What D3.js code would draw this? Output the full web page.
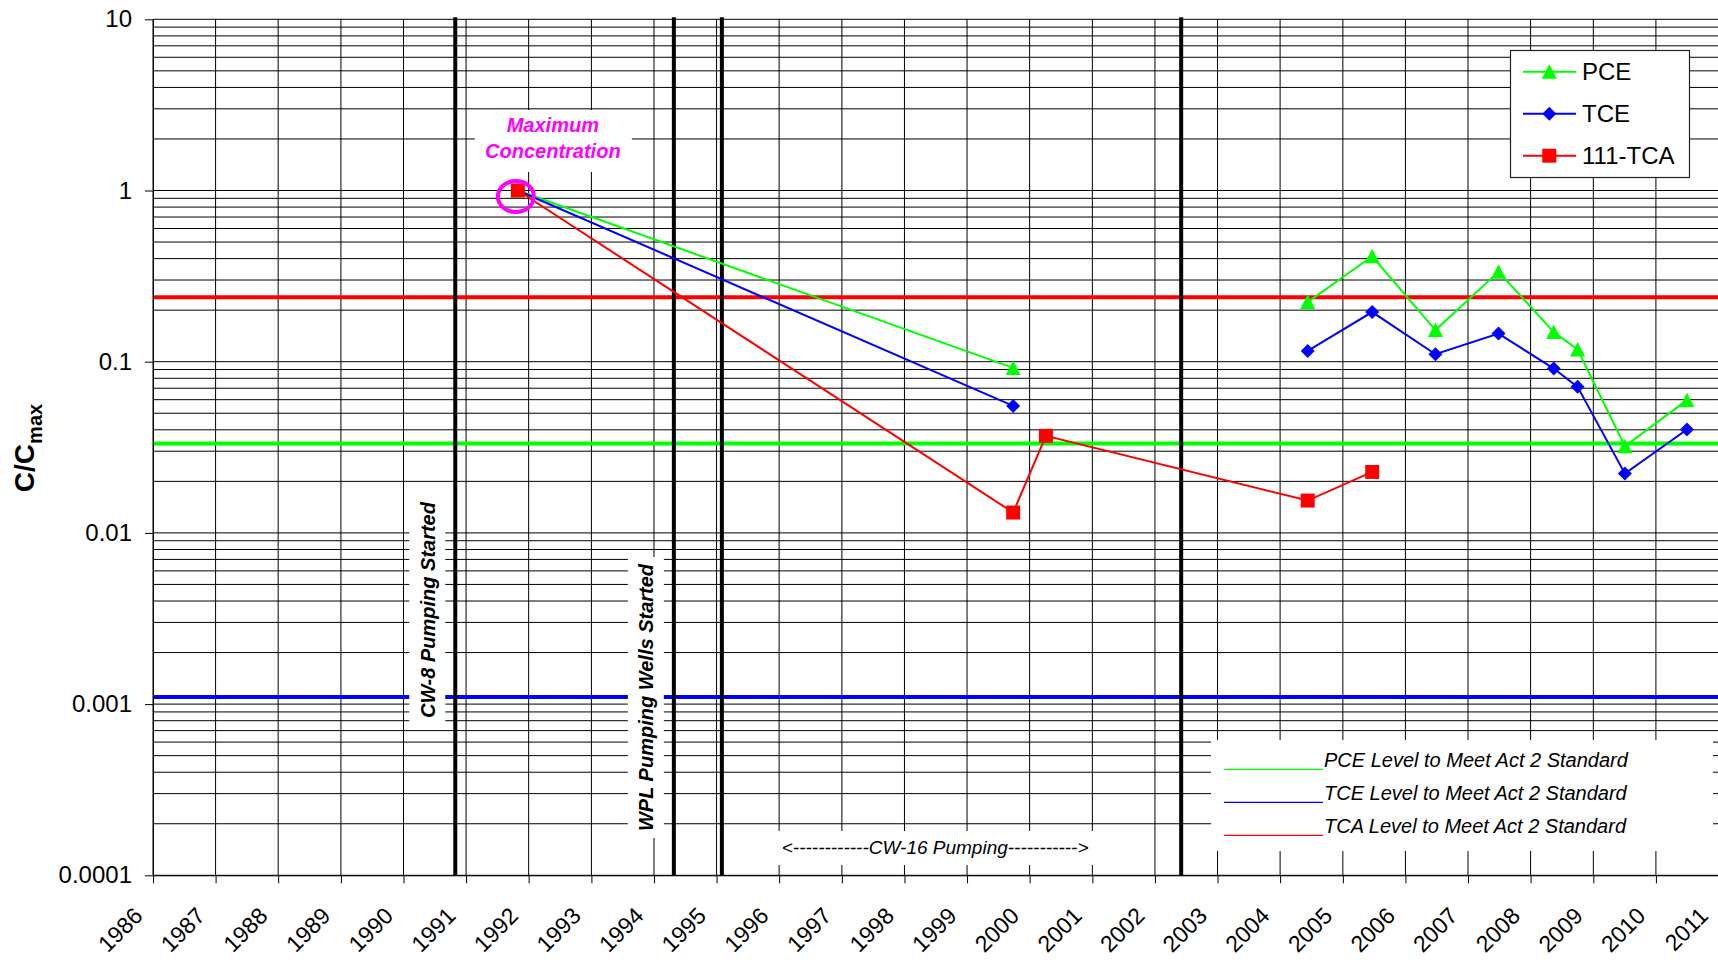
<!DOCTYPE html>
<html>
<head>
<meta charset="utf-8">
<script src="https://cdn.jsdelivr.net/npm/d3@7"></script>
<style>
html, body { margin: 0; padding: 0; background: #fff; }
svg { display: block; font-family: "Liberation Sans", Arial, sans-serif; }
</style>
</head>
<body>
<svg id="chart" width="1718" height="960"></svg>
<script>
// ---------------- DATA ----------------
const yearTicks = d3.range(1986, 2012);
const yTickValues = [0.0001, 0.001, 0.01, 0.1, 1, 10];
const yTickLabels = ["0.0001", "0.001", "0.01", "0.1", "1", "10"];

// sampling dates (null = not sampled for that compound)
const sampleDates = ["1991-10-30", "1999-09-27", "2000-04-05", "2004-06-10", "2005-06-21", "2006-06-25",
                     "2007-06-28", "2008-05-15", "2008-10-01", "2009-07-04", "2010-07-01"];
const pceValues = [1.0, 0.092, null, 0.223, 0.413, 0.153, 0.335, 0.149, 0.118, 0.0321, 0.0596];
const tceValues = [1.0, 0.0552, null, 0.1156, 0.195, 0.1106, 0.146, 0.0912, 0.0713, 0.0222, 0.0402];
const tcaValues = [1.0, 0.01315, 0.0369, 0.01545, 0.0227, null, null, null, null, null, null];

const seriesNames = ["PCE", "TCE", "111-TCA"];
const seriesColors = ["#00ff00", "#0000ff", "#ff0000"];
const seriesShapes = ["triangle", "diamond", "square"];

const standardNames = ["PCE Level to Meet Act 2 Standard", "TCE Level to Meet Act 2 Standard", "TCA Level to Meet Act 2 Standard"];
const standardValues = [0.0333, 0.0011, 0.238];
const standardColors = ["#00ff00", "#0000ff", "#ff0000"];

const eventDates = ["1990-10-30", "1994-04-27", "1995-02-01", "2002-06-03"];
const eventLabels = ["CW-8 Pumping Started", "WPL Pumping Wells Started"];
const cw16Label = "<------------CW-16 Pumping----------->";
const cw16Start = "1996-01-01";
const maxLabel = ["Maximum", "Concentration"];

// ---------------- SETUP ----------------
const parse = d3.timeParse("%Y-%m-%d");
const svg = d3.select("#chart");
const pLeft = 153, pRight = 1718.5, pTop = 19.3, pBottom = 875.3;

const x = d3.scaleTime()
  .domain([new Date(1986, 0, 1), new Date(2011, 0, 1)])
  .range([pLeft, pRight]);
const y = d3.scaleLog().domain([0.0001, 10]).range([pBottom, pTop]);

const valueArrays = [pceValues, tceValues, tcaValues];
const series = seriesNames.map((n, k) => ({
  name: n, color: seriesColors[k], shape: seriesShapes[k],
  pts: sampleDates.map((d, i) => ({ d: parse(d), v: valueArrays[k][i] }))
}));
// trim trailing missing values
series.forEach(s => {
  while (s.pts.length && s.pts[s.pts.length - 1].v == null) s.pts.pop();
});

function markerPath(shape) {
  if (shape === "triangle") return "M0,-7.5L7.5,7L-7.5,7Z";
  if (shape === "diamond") return "M0,-7L7,0L0,7L-7,0Z";
  return "M-7,-7L7,-7L7,7L-7,7Z";
}

// ---------------- GRID ----------------
const hGrid = [];
for (let e = -4; e <= 0; e++) for (let k = 1; k <= 9; k++) hGrid.push(k * Math.pow(10, e));
hGrid.push(10);

const grid = svg.append("g");
grid.selectAll("line.h").data(hGrid).join("line")
  .attr("x1", pLeft).attr("x2", pRight)
  .attr("y1", d => y(d)).attr("y2", d => y(d))
  .attr("stroke", "#000").attr("stroke-width", 1);
grid.selectAll("line.v").data(yearTicks).join("line")
  .attr("x1", d => x(new Date(d, 0, 1))).attr("x2", d => x(new Date(d, 0, 1)))
  .attr("y1", pTop).attr("y2", pBottom)
  .attr("stroke", "#000").attr("stroke-width", 1);

// ---------------- STANDARD LINES ----------------
svg.append("g").selectAll("line").data(standardValues).join("line")
  .attr("x1", pLeft).attr("x2", pRight)
  .attr("y1", d => y(d)).attr("y2", d => y(d))
  .attr("stroke", (d, i) => standardColors[i]).attr("stroke-width", 4);

// ---------------- EVENT LINES ----------------
svg.append("g").selectAll("line").data(eventDates).join("line")
  .attr("x1", d => x(parse(d))).attr("x2", d => x(parse(d)))
  .attr("y1", pTop - 2).attr("y2", pBottom)
  .attr("stroke", "#000").attr("stroke-width", 4);

// ---------------- AXES ----------------
const yAxis = svg.append("g").attr("transform", `translate(${pLeft},0)`)
  .call(d3.axisLeft(y).tickValues(yTickValues).tickFormat((d, i) => yTickLabels[i])
    .tickSize(8).tickSizeOuter(0).tickPadding(13));
yAxis.selectAll("text").attr("font-size", 24).attr("fill", "#000")
  .attr("font-family", "Liberation Sans, Arial, sans-serif");
yAxis.selectAll("line").attr("stroke", "#000");
yAxis.select(".domain").attr("stroke", "#000");

const xAxis = svg.append("g").attr("transform", `translate(0,${pBottom})`)
  .call(d3.axisBottom(x).tickValues(yearTicks.map(t => new Date(t, 0, 1)))
    .tickFormat(d3.timeFormat("%Y")).tickSize(8).tickSizeOuter(0));
xAxis.selectAll("text")
  .attr("font-size", 23).attr("fill", "#000")
  .attr("font-family", "Liberation Sans, Arial, sans-serif")
  .attr("text-anchor", "end")
  .attr("x", -9.5).attr("y", 42).attr("dy", 0)
  .attr("transform", "rotate(-45,-9.5,42)");
xAxis.selectAll("line").attr("stroke", "#000");
xAxis.select(".domain").attr("stroke", "#000");

// Y axis title
const yt = svg.append("text")
  .attr("transform", "translate(34,448) rotate(-90)")
  .attr("text-anchor", "middle").attr("font-weight", "bold").attr("fill", "#000");
yt.append("tspan").attr("font-size", 28).text("C/C");
yt.append("tspan").attr("font-size", 20).attr("dy", 8).text("max");

// ---------------- EVENT LABELS (white boxes) ----------------
const labelBoxes = [
  { ex: x(parse(eventDates[0])), y0: 494, y1: 726, text: eventLabels[0] },
  { ex: x(parse(eventDates[1])), y0: 557, y1: 838, text: eventLabels[1] }
];
labelBoxes.forEach(b => {
  svg.append("rect").attr("x", b.ex - 46).attr("y", b.y0)
    .attr("width", 36).attr("height", b.y1 - b.y0).attr("fill", "#fff");
  svg.append("text")
    .attr("transform", `translate(${b.ex - 20.5},${(b.y0 + b.y1) / 2}) rotate(-90)`)
    .attr("text-anchor", "middle").attr("font-size", 20)
    .attr("font-weight", "bold").attr("font-style", "italic").attr("fill", "#000")
    .text(b.text);
});

// CW-16 label
const cwx = x(parse(cw16Start));
svg.append("rect").attr("x", cwx - 5).attr("y", 831).attr("width", 321).attr("height", 34).attr("fill", "#fff");
svg.append("text").attr("x", cwx + 156).attr("y", 853.5).attr("text-anchor", "middle")
  .attr("font-size", 19).attr("font-style", "italic").attr("fill", "#000")
  .text(cw16Label);

// Maximum Concentration label
const fx = x(series[2].pts[0].d), fy = y(series[2].pts[0].v);
svg.append("rect").attr("x", fx - 43).attr("y", 110).attr("width", 157).attr("height", 62).attr("fill", "#fff");
maxLabel.forEach((t, i) => {
  svg.append("text").attr("x", fx + 35).attr("y", 132 + i * 25.5).attr("text-anchor", "middle")
    .attr("font-size", 20).attr("font-weight", "bold").attr("font-style", "italic")
    .attr("fill", "#ff00ff").text(t);
});

// ---------------- LOWER LEGEND (standards) ----------------
const lg2 = svg.append("g");
lg2.append("rect").attr("x", 1211).attr("y", 740).attr("width", 502).attr("height", 111).attr("fill", "#fff");
standardNames.forEach((n, i) => {
  const yy = 769.3 + i * 33;
  lg2.append("line").attr("x1", 1224).attr("x2", 1323).attr("y1", yy).attr("y2", yy)
    .attr("stroke", standardColors[i]).attr("stroke-width", 1.3);
  lg2.append("text").attr("x", 1324).attr("y", yy - 2.3)
    .attr("font-size", 20).attr("font-style", "italic").attr("fill", "#000").text(n);
});

// ---------------- SERIES ----------------
const line = d3.line().defined(p => p.v != null).x(p => x(p.d)).y(p => y(p.v));
series.forEach(s => {
  const g = svg.append("g");
  g.append("path").datum(s.pts).attr("d", line)
    .attr("fill", "none").attr("stroke", s.color).attr("stroke-width", 2);
  g.selectAll("path.m").data(s.pts.filter(p => p.v != null)).join("path")
    .attr("class", "m")
    .attr("transform", p => `translate(${x(p.d)},${y(p.v)})`)
    .attr("d", markerPath(s.shape)).attr("fill", s.color);
});

// Magenta circle around max point
svg.append("ellipse").attr("cx", fx - 2).attr("cy", fy + 6).attr("rx", 18).attr("ry", 15.5)
  .attr("fill", "none").attr("stroke", "#ff00ff").attr("stroke-width", 4);

// ---------------- TOP LEGEND ----------------
const lg = svg.append("g");
lg.append("rect").attr("x", 1510.5).attr("y", 50.5).attr("width", 179).attr("height", 127)
  .attr("fill", "#fff").attr("stroke", "#222").attr("stroke-width", 1.2);
series.forEach((s, i) => {
  const yy = 71.7 + i * 42;
  lg.append("line").attr("x1", 1523).attr("x2", 1576).attr("y1", yy).attr("y2", yy)
    .attr("stroke", s.color).attr("stroke-width", 2);
  lg.append("path").attr("transform", `translate(1549.3,${yy})`).attr("d", markerPath(s.shape)).attr("fill", s.color);
  lg.append("text").attr("x", 1582).attr("y", yy).attr("dy", "0.36em")
    .attr("font-size", 24).attr("fill", "#000").text(s.name);
});
</script>
</body>
</html>
